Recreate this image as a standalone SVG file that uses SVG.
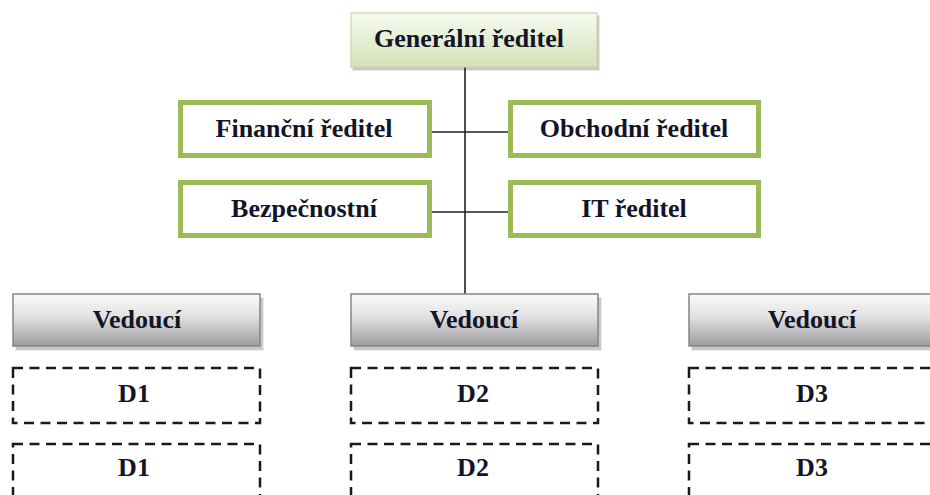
<svg xmlns="http://www.w3.org/2000/svg" width="930" height="495" viewBox="0 0 930 495">
  <defs>
    <linearGradient id="gTop" x1="0" y1="0" x2="0" y2="1">
      <stop offset="0" stop-color="#f7faf1"/>
      <stop offset="1" stop-color="#d4e2b8"/>
    </linearGradient>
    <linearGradient id="gGray" x1="0" y1="0" x2="0" y2="1">
      <stop offset="0" stop-color="#fbfbfb"/>
      <stop offset="0.45" stop-color="#e0e0e0"/>
      <stop offset="1" stop-color="#9c9c9c"/>
    </linearGradient>
  </defs>
  <style>
    .green { fill: #ffffff; stroke: #9bbb59; stroke-width: 5; }
    .gray { fill: url(#gGray); stroke: #858585; stroke-width: 1.5; }
    .shade { fill: #000000; opacity: 0.14; }
    .shade2 { fill: #000000; opacity: 0.08; }
    .dash { fill: #ffffff; stroke: #1a1a1a; stroke-width: 2.5; stroke-dasharray: 10 6.5; }
    .conn { stroke: #222222; stroke-width: 1.6; fill: none; }
  </style>

  <g id="connectors">
    <line class="conn" x1="465" y1="67" x2="465" y2="294"/>
    <line class="conn" x1="432" y1="132" x2="508" y2="132"/>
    <line class="conn" x1="432" y1="212" x2="508" y2="212"/>
  </g>

  <g id="generalni-reditel">
    <rect class="shade2" x="352" y="15" width="248" height="56"/>
    <rect class="shade" x="353" y="16" width="246" height="54"/>
    <rect x="351" y="13" width="246" height="54" fill="url(#gTop)" stroke="#c8d9a4" stroke-width="1.2"/>
    <text x="469" y="47" font-family="Liberation Serif, serif" font-weight="bold" font-size="26" fill="#141428" text-anchor="middle">Generální ředitel</text>
  </g>

  <g id="financni-reditel">
    <rect class="green" x="180.5" y="102.5" width="249" height="53"/>
    <text x="304" y="137" font-family="Liberation Serif, serif" font-weight="bold" font-size="26" fill="#141428" text-anchor="middle">Finanční ředitel</text>
  </g>
  <g id="obchodni-reditel">
    <rect class="green" x="510.5" y="102.5" width="248" height="53"/>
    <text x="634" y="137" font-family="Liberation Serif, serif" font-weight="bold" font-size="26" fill="#141428" text-anchor="middle">Obchodní ředitel</text>
  </g>
  <g id="bezpecnostni">
    <rect class="green" x="180.5" y="182.5" width="249" height="53"/>
    <text x="304" y="217" font-family="Liberation Serif, serif" font-weight="bold" font-size="26" fill="#141428" text-anchor="middle">Bezpečnostní</text>
  </g>
  <g id="it-reditel">
    <rect class="green" x="510.5" y="182.5" width="248" height="53"/>
    <text x="634" y="217" font-family="Liberation Serif, serif" font-weight="bold" font-size="26" fill="#141428" text-anchor="middle">IT ředitel</text>
  </g>

  <g id="vedouci-1">
    <rect class="shade2" x="15" y="297" width="249" height="54"/>
    <rect class="shade" x="16" y="298" width="247" height="52"/>
    <rect class="gray" x="13" y="294" width="247" height="52"/>
    <text x="137" y="328" font-family="Liberation Serif, serif" font-weight="bold" font-size="26" fill="#141428" text-anchor="middle">Vedoucí</text>
  </g>
  <g id="vedouci-2">
    <rect class="shade2" x="353" y="297" width="249" height="54"/>
    <rect class="shade" x="354" y="298" width="247" height="52"/>
    <rect class="gray" x="351" y="294" width="247" height="52"/>
    <text x="474" y="328" font-family="Liberation Serif, serif" font-weight="bold" font-size="26" fill="#141428" text-anchor="middle">Vedoucí</text>
  </g>
  <g id="vedouci-3">
    <rect class="shade2" x="691" y="297" width="249" height="54"/>
    <rect class="shade" x="692" y="298" width="247" height="52"/>
    <rect class="gray" x="689" y="294" width="247" height="52"/>
    <text x="812" y="328" font-family="Liberation Serif, serif" font-weight="bold" font-size="26" fill="#141428" text-anchor="middle">Vedoucí</text>
  </g>

  <g id="d1-a">
    <rect class="dash" x="13" y="368" width="247" height="55"/>
    <text x="134" y="402" font-family="Liberation Serif, serif" font-weight="bold" font-size="26" fill="#141428" text-anchor="middle">D1</text>
  </g>
  <g id="d1-b">
    <rect class="dash" x="13" y="444" width="247" height="60"/>
    <text x="134" y="476" font-family="Liberation Serif, serif" font-weight="bold" font-size="26" fill="#141428" text-anchor="middle">D1</text>
  </g>
  <g id="d2-a">
    <rect class="dash" x="351" y="368" width="247" height="55"/>
    <text x="473" y="402" font-family="Liberation Serif, serif" font-weight="bold" font-size="26" fill="#141428" text-anchor="middle">D2</text>
  </g>
  <g id="d2-b">
    <rect class="dash" x="351" y="444" width="247" height="60"/>
    <text x="473" y="476" font-family="Liberation Serif, serif" font-weight="bold" font-size="26" fill="#141428" text-anchor="middle">D2</text>
  </g>
  <g id="d3-a">
    <rect class="dash" x="689" y="368" width="247" height="55"/>
    <text x="812" y="402" font-family="Liberation Serif, serif" font-weight="bold" font-size="26" fill="#141428" text-anchor="middle">D3</text>
  </g>
  <g id="d3-b">
    <rect class="dash" x="689" y="444" width="247" height="60"/>
    <text x="812" y="476" font-family="Liberation Serif, serif" font-weight="bold" font-size="26" fill="#141428" text-anchor="middle">D3</text>
  </g>
</svg>
